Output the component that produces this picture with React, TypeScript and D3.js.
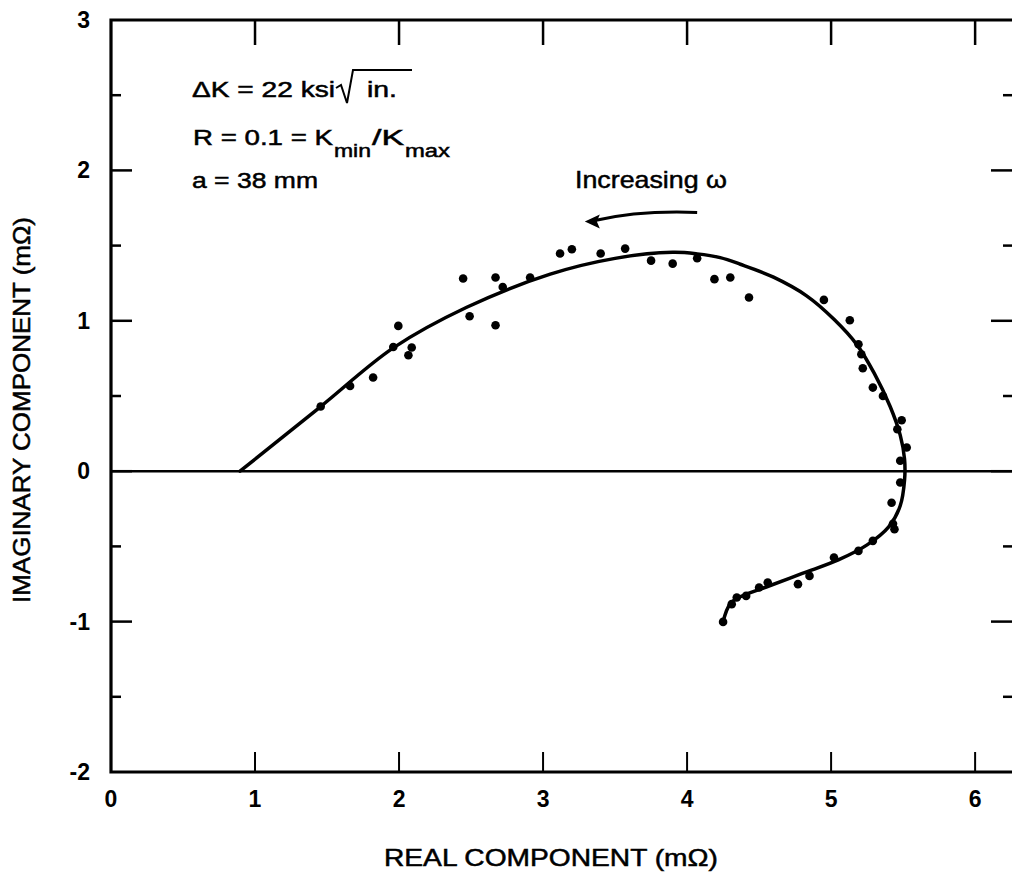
import React from "react";
import * as d3 from "d3";

// Measured points (real, imaginary) in mΩ
const pointReal = [1.456, 1.66, 1.82, 1.96, 1.995, 2.065, 2.088, 2.445, 2.49, 2.67, 2.67, 2.72, 2.91, 3.118, 3.2, 3.4, 3.57, 3.75, 3.9, 4.07, 4.19, 4.3, 4.43, 4.95, 5.13, 5.19, 5.21, 5.22, 5.29, 5.36, 5.49, 5.46, 5.525, 5.48, 5.48, 5.42, 5.43, 5.44, 5.29, 5.19, 5.02, 4.85, 4.77, 4.56, 4.5, 4.41, 4.345, 4.31, 4.25];
const pointImag = [0.43, 0.567, 0.623, 0.826, 0.966, 0.771, 0.822, 1.281, 1.03, 1.288, 0.97, 1.225, 1.288, 1.447, 1.476, 1.447, 1.48, 1.4, 1.38, 1.416, 1.277, 1.288, 1.155, 1.139, 1.004, 0.844, 0.778, 0.685, 0.556, 0.5, 0.339, 0.279, 0.158, 0.069, -0.075, -0.21, -0.35, -0.386, -0.463, -0.53, -0.574, -0.696, -0.751, -0.74, -0.773, -0.829, -0.84, -0.884, -1.002];

// Fitted curve
const curveReal = [0.896, 1.456, 1.96, 2.47, 3.05, 3.5, 3.9, 4.07, 4.23, 4.37, 4.6, 4.83, 5.02, 5.18, 5.3, 5.41, 5.48, 5.51, 5.51, 5.48, 5.4, 5.25, 5.05, 4.8, 4.55, 4.38, 4.3, 4.25];
const curveImag = [0.0, 0.43, 0.82, 1.09, 1.31, 1.415, 1.455, 1.445, 1.42, 1.376, 1.29, 1.166, 1.01, 0.84, 0.65, 0.43, 0.24, 0.08, -0.06, -0.23, -0.37, -0.49, -0.59, -0.68, -0.77, -0.83, -0.88, -1.0];

const xTicks = [0, 1, 2, 3, 4, 5, 6];
const yTicks = [-2, -1, 0, 1, 2, 3];
const yMinorTicks = [-1.5, -0.5, 0.5, 1.5, 2.5];

// Arrow annotation (data units): start, control, end
const arrowReal = [4.07, 3.67, 3.29];
const arrowImag = [1.72, 1.735, 1.66];

const FONT = "'Liberation Sans', Arial, Helvetica, sans-serif";

export default function App() {
  const W = 1012;
  const H = 876;
  const x = d3.scaleLinear().domain([0, 6.27]).range([111, 1014]);
  const y = d3.scaleLinear().domain([-2, 3]).range([772, 20]);

  const curvePts: [number, number][] = curveReal.map((r, i) => [r, curveImag[i]]);
  const line = d3
    .line<[number, number]>()
    .x((d) => x(d[0]))
    .y((d) => y(d[1]))
    .curve(d3.curveCatmullRom.alpha(0.5));

  const arrowPath = `M${x(arrowReal[0])},${y(arrowImag[0])} Q${x(arrowReal[1])},${y(arrowImag[1])} ${x(arrowReal[2]) + 10},${y(arrowImag[2]) - 1}`;
  const tipX = x(arrowReal[2]);
  const tipY = y(arrowImag[2]);

  const x0 = x(0);
  const xR = x.range()[1];
  const yTop = y(3);
  const yBot = y(-2);

  const heavy = { stroke: "#000", strokeWidth: 0.5 };

  return (
    <div style={{ position: "absolute", left: 0, top: 0 }}>
      <svg width={W} height={H} style={{ display: "block", background: "#fff" }} fontFamily={FONT}>
        {/* frame */}
        <path d={`M${xR},${yTop} H${x0} V${yBot} H${xR}`} fill="none" stroke="#000" strokeWidth={3.2} />
        {/* zero line */}
        <line x1={x0} x2={xR} y1={y(0)} y2={y(0)} stroke="#000" strokeWidth={2.5} />

        {/* top & bottom ticks */}
        {xTicks.filter((t) => t > 0).map((t) => (
          <g key={"xt" + t}>
            <line x1={x(t)} x2={x(t)} y1={yTop} y2={yTop + 25} stroke="#000" strokeWidth={2.5} />
            <line x1={x(t)} x2={x(t)} y1={yBot} y2={yBot - 20} stroke="#000" strokeWidth={2} />
          </g>
        ))}
        {/* left & right ticks */}
        {yTicks.filter((t) => t > -2 && t < 3).map((t) => (
          <g key={"yt" + t}>
            <line x1={x0} x2={x0 + 21} y1={y(t)} y2={y(t)} stroke="#000" strokeWidth={2.5} />
            <line x1={1012} x2={991} y1={y(t)} y2={y(t)} stroke="#000" strokeWidth={2.5} />
          </g>
        ))}
        {yMinorTicks.map((t) => (
          <g key={"ym" + t}>
            <line x1={x0} x2={x0 + 10} y1={y(t)} y2={y(t)} stroke="#000" strokeWidth={2.5} />
            <line x1={1012} x2={1003} y1={y(t)} y2={y(t)} stroke="#000" strokeWidth={2.5} />
          </g>
        ))}

        {/* tick labels */}
        {xTicks.map((t) => (
          <text key={"xl" + t} x={x(t)} y={807} textAnchor="middle" fontSize={23} fontWeight="bold">
            {t}
          </text>
        ))}
        {yTicks.map((t) => (
          <text key={"yl" + t} x={90} y={y(t) + 8} textAnchor="end" fontSize={23} fontWeight="bold">
            {t}
          </text>
        ))}

        {/* axis titles */}
        <text x={384} y={866} fontSize={24} textLength={334} lengthAdjust="spacingAndGlyphs" {...heavy}>
          REAL COMPONENT (mΩ)
        </text>
        <text
          transform={`translate(30,603) rotate(-90)`}
          fontSize={24}
          textLength={386}
          lengthAdjust="spacingAndGlyphs"
          {...heavy}
        >
          IMAGINARY COMPONENT (mΩ)
        </text>

        {/* curve */}
        <path d={line(curvePts) || ""} fill="none" stroke="#000" strokeWidth={3.5} strokeLinejoin="round" strokeLinecap="round" />

        {/* points */}
        {pointReal.map((r, i) => (
          <circle key={"p" + i} cx={x(r)} cy={y(pointImag[i])} r={4.3} fill="#000" />
        ))}

        {/* annotations */}
        <text x={192} y={97} fontSize={22} textLength={143} lengthAdjust="spacingAndGlyphs" {...heavy}>
          ΔK = 22 ksi
        </text>
        <path d="M336,88 L341,85 L347,103 L353,70 L412,70" fill="none" stroke="#000" strokeWidth={2} />
        <text x={367} y={97} fontSize={22} textLength={30} lengthAdjust="spacingAndGlyphs" {...heavy}>
          in.
        </text>

        <text x={193} y={145} fontSize={22} textLength={140} lengthAdjust="spacingAndGlyphs" {...heavy}>
          R = 0.1 = K
        </text>
        <text x={334} y={157} fontSize={18} textLength={37} lengthAdjust="spacingAndGlyphs" {...heavy}>
          min
        </text>
        <text x={372} y={145} fontSize={22} textLength={32} lengthAdjust="spacingAndGlyphs" {...heavy}>
          /K
        </text>
        <text x={405} y={157} fontSize={18} textLength={45} lengthAdjust="spacingAndGlyphs" {...heavy}>
          max
        </text>

        <text x={192} y={188} fontSize={22} textLength={126} lengthAdjust="spacingAndGlyphs" {...heavy}>
          a = 38 mm
        </text>

        <text x={575} y={188} fontSize={24} textLength={152} lengthAdjust="spacingAndGlyphs" {...heavy}>
          Increasing ω
        </text>
        <path d={arrowPath} fill="none" stroke="#000" strokeWidth={3} />
        <path d={`M${tipX},${tipY} L${tipX + 15},${tipY - 7} L${tipX + 12},${tipY} L${tipX + 15},${tipY + 7} Z`} fill="#000" />
      </svg>
    </div>
  );
}
